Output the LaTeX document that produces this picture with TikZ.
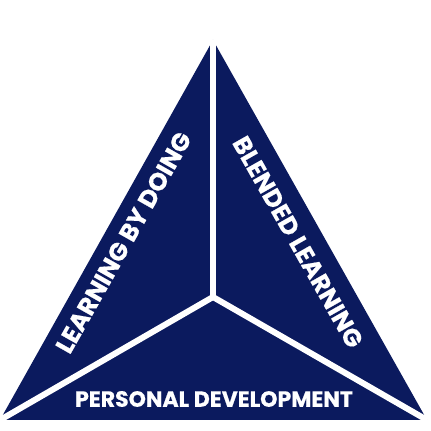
\documentclass[tikz,border=0pt]{standalone}
\usepackage{fontspec}
\newfontfamily\popfont{Poppins}[BoldFeatures={FakeBold=0.6}]
\definecolor{navy}{HTML}{0B1A5E}
\tikzset{
  sep/.style={draw=white, line width=6pt},
  lbl/.style={text=white, font=\popfont\bfseries\fontsize{22}{24}\selectfont, inner sep=0pt},
  dlbl/.style={lbl, font=\popfont\bfseries\fontsize{24.8}{26}\selectfont}
}
\begin{document}
\begin{tikzpicture}[x=1pt,y=1pt]
\useasboundingbox (0,0) rectangle (431,431);
\coordinate (A) at (213,391);
\coordinate (L) at (0,11);
\coordinate (R) at (427,11);
\coordinate (C) at (213,134);
\fill[navy] (A) -- (L) -- (R) -- cycle;
\draw[sep] (C) -- (A);
\draw[sep] (C) -- (L);
\draw[sep] (C) -- (R);
\node[lbl] (pd) at (214,32) {PERSONAL DEVELOPMENT};
\node[dlbl, rotate=60.5] (lbd) at (123.5,188.5) {LEARNING BY DOING};
\node[dlbl, rotate=-60.5] (bl) at (298,189) {BLENDED LEARNING};
\end{tikzpicture}
\end{document}
